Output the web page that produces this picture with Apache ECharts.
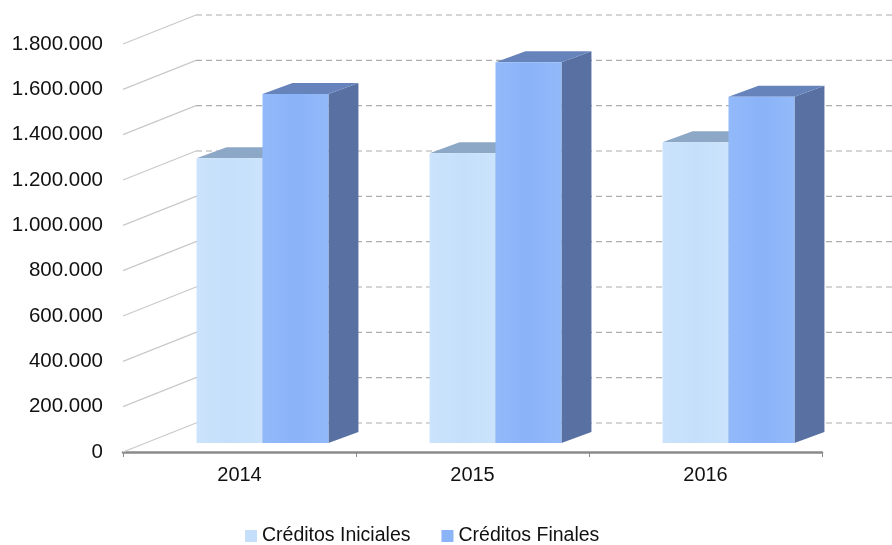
<!DOCTYPE html>
<html>
<head>
<meta charset="utf-8">
<script src="https://cdn.jsdelivr.net/npm/echarts@6/dist/echarts.min.js"></script>
<style>
html,body{margin:0;padding:0;background:#fff;}
#chart{width:892px;height:545px;}
</style>
</head>
<body>
<div id="chart"></div>
<script>
// ---- data ----
var categories = ['2014', '2015', '2016'];
var seriesNames = ['Créditos Iniciales', 'Créditos Finales'];
var creditosIniciales = [1256000, 1278000, 1327000];
var creditosFinales = [1540000, 1680000, 1528000];
var yTicks = [0, 200000, 400000, 600000, 800000, 1000000, 1200000, 1400000, 1600000, 1800000];

// ---- 3D look (style only) ----
var WALL_DX = 73, WALL_DY = -29;   // back wall offset
var BAR_DX = 23, BAR_DY = -9;      // bar front plane offset
var SIDE_DX = 30, SIDE_DY = -11;   // bar depth
var BAR_FRAC = 0.283;              // bar width as fraction of category

var faces = [
  {front: '#C5DFFB', front2: '#CBE3FC', top: '#8DA8C7', side: '#7E98B8'},
  {front: '#8AB3F8', front2: '#92BAFA', top: '#6783BC', side: '#5871A2'}
];

function fmt(v) {
  return String(v).replace(/\B(?=(\d{3})+(?!\d))/g, '.');
}

function makeBarRender(sIdx) {
  return function (params, api) {
    var idx = api.value(0);
    var val = api.value(1);
    var base = api.coord([idx, 0]);
    var topPt = api.coord([idx, val]);
    var catW = api.size([1, 0])[0];
    var w = catW * BAR_FRAC;
    var x0 = base[0] + BAR_DX + (sIdx === 0 ? -w : 0);
    var x1 = x0 + w;
    var yb = base[1] + BAR_DY;
    var yt = topPt[1] + BAR_DY;
    var f = faces[sIdx];
    return {
      type: 'group',
      children: [
        {
          type: 'polygon',
          shape: {points: [[x1, yb], [x1 + SIDE_DX, yb + SIDE_DY], [x1 + SIDE_DX, yt + SIDE_DY], [x1, yt]]},
          style: {fill: f.side}
        },
        {
          type: 'polygon',
          shape: {points: [[x0, yt], [x0 + SIDE_DX, yt + SIDE_DY], [x1 + SIDE_DX, yt + SIDE_DY], [x1, yt]]},
          style: {fill: f.top}
        },
        {
          type: 'rect',
          shape: {x: x0, y: yt, width: w, height: yb - yt},
          style: {
            fill: new echarts.graphic.LinearGradient(0, 0, 1, 0, [
              {offset: 0, color: f.front2},
              {offset: 0.5, color: f.front},
              {offset: 1, color: f.front2}
            ])
          }
        }
      ]
    };
  };
}

function wallRender(params, api) {
  var v = api.value(0);
  var cs = params.coordSys;
  var p = api.coord([0, v]);
  var y = p[1];
  var left = cs.x;
  var right = cs.x + cs.width;
  return {
    type: 'group',
    children: [
      {
        type: 'line',
        shape: {x1: left, y1: y, x2: left + WALL_DX, y2: y + WALL_DY},
        style: {stroke: '#c9c9c9', lineWidth: 1.2}
      },
      {
        type: 'line',
        shape: {x1: left + WALL_DX, y1: y + WALL_DY, x2: right + WALL_DX, y2: y + WALL_DY},
        style: {stroke: '#adadad', lineWidth: 1.2, lineDash: [6, 4]}
      }
    ]
  };
}

var chart = echarts.init(document.getElementById('chart'), null, {renderer: 'canvas'});

var option = {
  animation: false,
  backgroundColor: '#ffffff',
  textStyle: {fontFamily: 'Liberation Sans, Arial, sans-serif'},
  grid: {left: 123, right: 70, top: 44, bottom: 93, containLabel: false},
  legend: {
    left: 245,
    top: 526,
    padding: 0,
    icon: 'rect',
    itemWidth: 12,
    itemHeight: 12,
    itemGap: 31,
    textStyle: {fontSize: 19.5, color: '#111', fontFamily: 'Liberation Sans, Arial, sans-serif'},
    data: seriesNames
  },
  xAxis: {
    type: 'category',
    data: categories,
    axisLine: {show: true, lineStyle: {color: '#8a8a8a', width: 2.5}},
    axisTick: {show: true, length: 5, lineStyle: {color: '#8a8a8a', width: 1}},
    axisLabel: {fontSize: 20, color: '#111', margin: 13},
    splitLine: {show: false}
  },
  yAxis: {
    type: 'value',
    min: 0,
    max: 1800000,
    interval: 200000,
    axisLine: {show: false},
    axisTick: {show: false},
    splitLine: {show: false},
    axisLabel: {
      fontSize: 20.5,
      color: '#111',
      margin: 20,
      formatter: function (v) { return fmt(v); }
    }
  },
  series: [
    {
      type: 'custom',
      name: 'walls',
      silent: true,
      z: 1,
      renderItem: wallRender,
      data: yTicks.map(function (v) { return [v]; }),
      encode: {y: 0}
    },
    {
      type: 'custom',
      name: seriesNames[0],
      z: 2,
      itemStyle: {color: '#C5DFFB'},
      renderItem: makeBarRender(0),
      data: creditosIniciales.map(function (v, i) { return [i, v]; }),
      encode: {x: 0, y: 1}
    },
    {
      type: 'custom',
      name: seriesNames[1],
      z: 3,
      itemStyle: {color: '#8AB3F8'},
      renderItem: makeBarRender(1),
      data: creditosFinales.map(function (v, i) { return [i, v]; }),
      encode: {x: 0, y: 1}
    }
  ]
};

chart.setOption(option);
</script>
</body>
</html>
